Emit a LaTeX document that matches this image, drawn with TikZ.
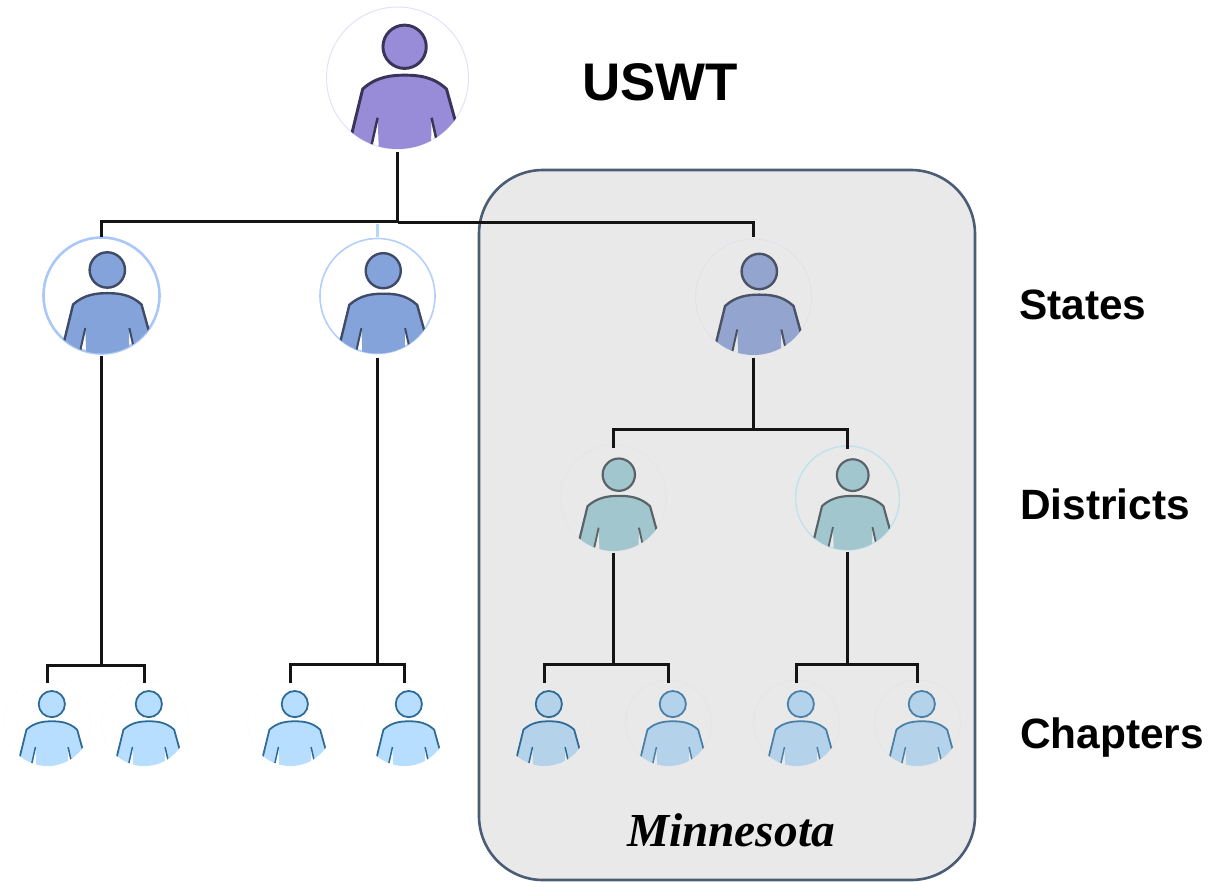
\documentclass[tikz,border=0pt]{standalone}
\usepackage{fontspec}
\setmainfont{Liberation Sans}
\newfontfamily\scriptish{Liberation Serif}
\definecolor{regionedge}{HTML}{4A5D75}
\definecolor{regionfill}{HTML}{E9E9E9}
\tikzset{
  wire/.style={draw=black!92,line width=2.1pt,line cap=butt,line join=miter},
  stub/.style={draw=stubblue,line width=1.95pt},
  head/.style={font=\bfseries\fontsize{31.8}{36}\selectfont,anchor=west,inner sep=0pt},
  region/.style={draw=regionedge,fill=regionfill,line width=1.95pt,rounded corners=48pt},
}
\definecolor{stubblue}{HTML}{B4D8F8}
\newcommand{\person}[8]{% name,x,y,r,fill,stroke,ring colour,ring width
  \definecolor{pfill}{HTML}{#5}\definecolor{pline}{HTML}{#6}\definecolor{pring}{HTML}{#7}
  \node[circle,inner sep=0pt,outer sep=0pt,minimum size=2*#4*0.75pt,draw=pring,line width=#8*0.75pt] (#1) at (#2,#3) {};
  \begin{scope}[shift={(#2,#3)},x=#4*0.75pt,y=-#4*0.75pt]
    \begin{scope}
      \clip (0,0) circle (1);
      \path[fill=pfill] (-0.66,0.85) -- (-0.49,0.155) .. controls (-0.30,-0.02) and (-0.08,-0.04) .. (0.10,-0.04)
        .. controls (0.30,-0.04) and (0.50,-0.02) .. (0.69,0.155) -- (0.83,0.66) -- (0.83,1.1) -- (0.60,1.1)
        -- (0.48,0.56) -- (0.47,1.1) -- (-0.26,1.1) -- (-0.28,0.56) -- (-0.40,1.1) -- (-0.66,1.1) -- cycle;
      \draw[draw=pline,line width=#4*0.031pt,line join=round]
        (-0.66,0.85) -- (-0.49,0.155) .. controls (-0.30,-0.02) and (-0.08,-0.04) .. (0.10,-0.04)
        .. controls (0.30,-0.04) and (0.50,-0.02) .. (0.69,0.155) -- (0.83,0.66);
      \draw[draw=pline,line width=#4*0.026pt] (-0.40,1.1) -- (-0.28,0.56);
      \draw[draw=pline,line width=#4*0.026pt] (0.60,1.1) -- (0.48,0.56);
    \end{scope}
    \draw[draw=pline,fill=pfill,line width=#4*0.031pt] (0.10,-0.44) circle (0.305);
  \end{scope}
}
\begin{document}
\begin{tikzpicture}[x=0.75pt,y=-0.75pt]
\useasboundingbox (0,0) rectangle (1222,882);
\node[region,minimum width=372pt,minimum height=532.5pt,inner sep=0pt] (mn) at (727,525) {};
% people
\person{us}{397.5}{78}{71}{988BD8}{3A3558}{E4E0FB}{1}
\person{sa}{101.5}{295.5}{58}{84A3DA}{3F4A66}{A9C8F8}{2.6}
\person{sb}{377.5}{296}{57.5}{84A3DA}{3F4A66}{B4D0FA}{1.6}
\person{sc}{753.5}{297}{58}{93A5CF}{4A5266}{E0E2EA}{0.8}
\person{da}{613.5}{498}{53}{A1C6CE}{5A6468}{E6E6E7}{0.8}
\person{db}{847.5}{498}{52}{A1C6CE}{5A6468}{BFE3EC}{1.4}
\person{ca}{47.5}{723}{43}{B7DEFF}{2E6A96}{FCFCFC}{0.8}
\person{cb}{144.5}{723}{43}{B7DEFF}{2E6A96}{FCFCFC}{0.8}
\person{cc}{290.5}{723}{43}{B7DEFF}{2E6A96}{FCFCFC}{0.8}
\person{cd}{404.5}{723}{43}{B7DEFF}{2E6A96}{FCFCFC}{0.8}
\person{ce}{544.5}{723}{43}{B4D2EA}{2E6A96}{EBEBEB}{0.8}
\person{cf}{668.5}{723}{43}{B4D2EA}{4A7FA6}{E5E5E5}{0.8}
\person{cg}{796.5}{723}{43}{B4D2EA}{4A7FA6}{E5E5E5}{0.8}
\person{ch}{917.5}{723}{43}{B4D2EA}{4A7FA6}{E5E5E5}{0.8}
% connectors
\coordinate (usj) at (397.5,221.5);
\coordinate (usk) at (397.5,222.5);
\coordinate (sbj) at (377.5,224);
\draw[wire] ([yshift=-2pt]us.south) -- (usj);
\draw[wire] (usj) -| ([yshift=0.75pt]sa.north);
\draw[wire] (usk) -| ([yshift=1.5pt]sc.north);
\draw[stub] (sbj) -- ([yshift=1.5pt]sb.north);
\coordinate (saj) at (101.5,665.5);
\coordinate (sbk) at (377.5,664.5);
\coordinate (scj) at (753.5,429.5);
\coordinate (daj) at (613.5,664.5);
\coordinate (dbj) at (847.5,664.5);
\draw[wire] ([yshift=-1.5pt]sa.south) -- (saj);
\draw[wire] ([yshift=-3pt]sb.south) -- (sbk);
\draw[wire] ([yshift=-2pt]sc.south) -- (scj);
\draw[wire] ([yshift=-1.5pt]da.south) -- (daj);
\draw[wire] ([yshift=-1.5pt]db.south) -- (dbj);
\draw[wire] ([yshift=-2pt]ca.north) |- (saj) -| ([yshift=-2pt]cb.north);
\draw[wire] ([yshift=-2pt]cc.north) |- (sbk) -| ([yshift=-2pt]cd.north);
\draw[wire] ([yshift=-2pt]da.north) |- (scj) -| ([yshift=-2pt]db.north);
\draw[wire] ([yshift=-2pt]ce.north) |- (daj) -| ([yshift=-2pt]cf.north);
\draw[wire] ([yshift=-2pt]cg.north) |- (dbj) -| ([yshift=-2pt]ch.north);
% labels
\node[font=\bfseries\fontsize{39.7}{44}\selectfont,anchor=west,inner sep=0pt] (tus) at (582,82) {USWT};
\node[head] (tst) at (1019,305) {States};
\node[head] (tdi) at (1020,504) {Districts};
\node[head] (tch) at (1020,738) {Chapters};
\node[font=\scriptish\bfseries\itshape\fontsize{35.5}{40}\selectfont,inner sep=0pt] (tmn) at (731,830) {Minnesota};
\end{tikzpicture}
\end{document}
